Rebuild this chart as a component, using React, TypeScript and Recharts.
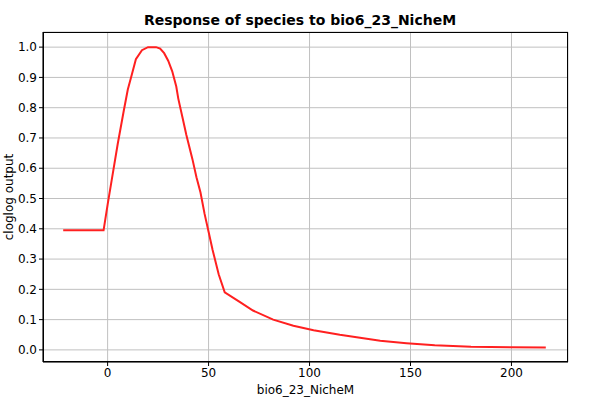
import { LineChart, Line, XAxis, YAxis, CartesianGrid } from "recharts";

const xs = [-22, -2, 0, 2, 5, 8, 10, 12, 14, 17, 20, 24, 26, 28, 30, 32, 34, 35, 37, 39, 42, 44, 46, 48, 50, 52, 55, 58, 65, 72, 82, 92, 102, 115, 125, 135, 148, 162, 180, 200, 217];
const ys = [0.395, 0.395, 0.48, 0.56, 0.68, 0.79, 0.86, 0.91, 0.96, 0.99, 1.0, 1.0, 0.995, 0.98, 0.955, 0.92, 0.87, 0.83, 0.77, 0.71, 0.63, 0.57, 0.52, 0.45, 0.39, 0.33, 0.25, 0.19, 0.16, 0.13, 0.1, 0.08, 0.065, 0.05, 0.04, 0.03, 0.022, 0.015, 0.01, 0.009, 0.008];
const xTicks = [0, 50, 100, 150, 200];
const yTicks = [0, 0.1, 0.2, 0.3, 0.4, 0.5, 0.6, 0.7, 0.8, 0.9, 1.0];

const data = xs.map((x, i) => ({ x, y: ys[i] }));
const font = "DejaVu Sans, sans-serif";

export default function App() {
  return (
    <div style={{ position: "absolute", left: 0, top: 0, width: 600, height: 400, background: "#fff", fontFamily: font }}>
      <div style={{ position: "absolute", top: 12, width: 600, textAlign: "center", fontWeight: "bold", fontSize: 14 }}>
        Response of species to bio6_23_NicheM
      </div>
      <div style={{ position: "absolute", left: 9, top: 197, fontSize: 12, transform: "translate(-50%, -50%) rotate(-90deg)", whiteSpace: "nowrap" }}>
        cloglog output
      </div>
      <LineChart width={600} height={400} data={data} margin={{ top: 32, right: 32, left: 0, bottom: 2 }}>
        <CartesianGrid stroke="#c0c0c0" strokeDasharray="" />
        <XAxis
          dataKey="x"
          type="number"
          domain={[-32, 228]}
          ticks={xTicks}
          allowDataOverflow
          stroke="#000"
          tick={{ fill: "#000", fontSize: 12 }}
          tickSize={4}
          height={36}
          label={{ value: "bio6_23_NicheM", position: "insideBottom", offset: 4, fill: "#000", fontSize: 12 }}
        />
        <YAxis
          type="number"
          domain={[-0.04, 1.05]}
          ticks={yTicks}
          allowDataOverflow
          tickFormatter={(v: number) => v.toFixed(1)}
          stroke="#000"
          tick={{ fill: "#000", fontSize: 12 }}
          tickSize={4}
          width={43}
        />
        <Line type="linear" dataKey="y" stroke="#ff2020" strokeWidth={2} dot={false} isAnimationActive={false} />
      </LineChart>
      <div style={{ position: "absolute", left: 43, top: 32, width: 525, height: 330, border: "1px solid #000", boxSizing: "border-box", pointerEvents: "none" }} />
    </div>
  );
}
